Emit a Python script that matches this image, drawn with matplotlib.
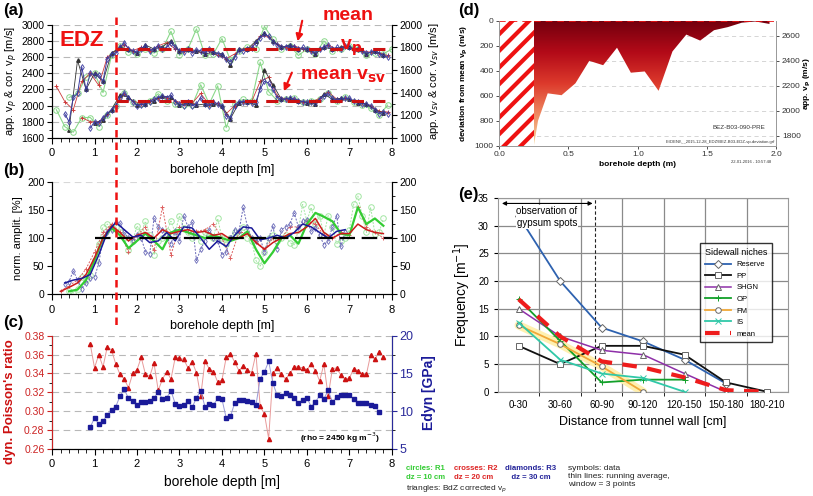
import numpy as np
import matplotlib
matplotlib.use('Agg')
import matplotlib.pyplot as plt
from matplotlib.colors import LinearSegmentedColormap
from matplotlib.lines import Line2D
from matplotlib.patches import Polygon, Rectangle
from matplotlib.ticker import MultipleLocator

plt.rcParams['font.family'] = ['Liberation Sans', 'DejaVu Sans']
plt.rcParams['hatch.linewidth'] = 3
plt.rcParams['hatch.color'] = '#ee1111'


def depths(start, stop, step):
    # sampling depths along the borehole
    return np.round(np.arange(start, stop + step / 2, step), 2)


#%%
# (a) apparent velocities, upper group = vp (left axis), lower group = vsv (right axis)
edz_depth = 1.5
vp_mean = 2700
vsv_mean = 1330

x_vp_r3 = depths(0.3, 7.9, 0.1)
vp_r3 = [1900, 1800, 2100, 2150, 2480, 2200, 2400,
         2380, 2380, 2300, 2580, 2640, 2650, 2720, 2780, 2700, 2680,
         2660, 2700, 2740, 2680, 2700, 2740, 2700, 2720, 2780, 2720,
         2680, 2660, 2700, 2650, 2690, 2680, 2650, 2700, 2660, 2640,
         2630, 2580, 2540, 2600, 2690, 2680, 2700, 2710, 2780, 2840,
         2880, 2860, 2790, 2750, 2720, 2730, 2740, 2730, 2700, 2720,
         2700, 2680, 2650, 2700, 2720, 2750, 2700, 2720, 2700, 2740,
         2720, 2690, 2700, 2680, 2650, 2660, 2680, 2640, 2620, 2600]
x_vp_cor = depths(0.4, 7.8, 0.2)
vp_cor = [1700, 2560, 2200, 2400, 2300, 2650, 2720, 2700, 2650, 2750,
          2700, 2730, 2800, 2680, 2700, 2680, 2640, 2660, 2640, 2500,
          2700, 2700, 2800, 2900, 2800, 2720, 2750, 2700, 2700, 2640,
          2720, 2700, 2720, 2720, 2700, 2640, 2680, 2620]
x_vp_r2 = depths(0.1, 7.9, 0.2)
vp_r2 = [2240, 2050, 1950, 2300, 2400, 2250, 2600, 2680, 2750, 2680,
         2720, 2680, 2740, 2780, 2700, 2670, 2680, 2660, 2680, 2620,
         2580, 2640, 2700, 2720, 2860, 2850, 2760, 2720, 2740, 2700,
         2680, 2700, 2750, 2700, 2740, 2700, 2680, 2660, 2650, 2620]
x_vp_r1 = depths(0.4, 8.0, 0.2)
vp_r1 = [2100, 2150, 2350, 2400, 2160, 2620, 2740, 2660, 2640, 2700,
         2650, 2700, 2920, 2620, 2700, 2950, 2620, 2640, 2830, 2560,
         2680, 2720, 2700, 2980, 2820, 2700, 2740, 2620, 2700, 2640,
         2800, 2680, 2700, 2740, 2700, 2620, 2650, 2640, 2700]

x_vs_r3 = depths(0.9, 7.9, 0.1)
vs_r3 = [1086,
         1143, 1129, 1179, 1214, 1250, 1286, 1357, 1400, 1357, 1321,
         1286, 1293, 1300, 1321, 1343, 1357, 1371, 1357, 1379, 1321,
         1300, 1286, 1321, 1286, 1300, 1357, 1300, 1286, 1321, 1300,
         1286, 1193, 1179, 1286, 1321, 1321, 1321, 1307, 1321, 1429,
         1500, 1486, 1429, 1357, 1343, 1343, 1350, 1343, 1329, 1321,
         1314, 1321, 1307, 1343, 1371, 1393, 1350, 1336, 1343, 1350,
         1350, 1329, 1314, 1300, 1300, 1286, 1250, 1214, 1229, 1214]
x_vs_cor = depths(1.0, 7.8, 0.2)
vs_cor = [1130, 1160, 1250, 1380, 1360, 1290, 1300, 1330, 1370, 1360,
          1290, 1310, 1290, 1300, 1300, 1280, 1170, 1310, 1320, 1290,
          1600, 1470, 1340, 1350, 1330, 1310, 1300, 1390, 1340, 1350,
          1340, 1310, 1300, 1250, 1220]
x_vs_r2 = depths(0.7, 7.9, 0.2)
vs_r2 = [1179, 1143, 1143, 1214, 1286, 1386, 1329, 1300, 1329, 1357,
         1357, 1329, 1300, 1307, 1393, 1293, 1307, 1214, 1286, 1321,
         1321, 1500, 1536, 1371, 1343, 1343, 1321, 1314, 1350, 1407,
         1343, 1350, 1329, 1307, 1286, 1236, 1229]
x_vs_r1 = depths(0.1, 7.9, 0.2)
vs_r1 = [1250, 1100, 1050, 1180, 1180, 1100, 1200, 1280, 1400, 1320,
         1300, 1330, 1390, 1330, 1300, 1290, 1290, 1470, 1300, 1460,
         1090, 1300, 1340, 1330, 1670, 1410, 1330, 1340, 1350, 1320,
         1330, 1340, 1400, 1330, 1360, 1320, 1290, 1260, 1200, 1290]

#%%
# (b) normalised amplitudes: raw data and running averages
x_amp_r3 = depths(0.3, 6.9, 0.1)
amp_r3 = [18, 22, 42, 25, 10, 20, 28,
          30, 55, 100, 110, 115, 128, 127, 110, 100, 95,
          105, 100, 75, 72, 135, 120, 115, 100, 90, 112,
          95, 140, 120, 128, 60, 80, 95, 115, 100, 95,
          70, 75, 100, 115, 112, 155, 120, 100, 95, 100,
          75, 100, 122, 80, 115, 120, 125, 145, 120, 130,
          132, 112, 118, 105, 88, 95, 120, 140, 85, 110]
x_amp_r2 = depths(0.2, 7.8, 0.2)
amp_r2 = [5, 15, 25, 45, 75, 110, 125, 110, 75, 105,
          120, 78, 155, 70, 120, 110, 112, 115, 125, 100,
          65, 110, 110, 95, 80, 100, 100, 120, 120, 130,
          125, 105, 100, 110, 105, 155, 120, 110, 100]
x_amp_r1 = depths(0.4, 7.8, 0.1)
amp_r1 = [5, 2, 10, 30, 25, 35,
          60, 90, 120, 125, 118, 120, 110, 100, 78, 95,
          122, 110, 130, 105, 70, 95, 100, 112, 130, 110,
          140, 118, 110, 100, 105, 95, 110, 105, 100, 135,
          100, 90, 100, 110, 105, 120, 100, 95, 60, 50,
          75, 100, 105, 95, 100, 105, 92, 88, 115, 160,
          130, 155, 125, 140, 105, 140, 120, 90, 95, 100,
          115, 160, 175, 140, 110, 155, 108, 110, 135]

x_avg_r3 = depths(0.3, 6.9, 0.2)
avg_r3 = [20, 25, 28, 35, 70, 110, 128, 115, 102, 105, 92, 95, 110, 95, 120,
          118, 100, 80, 95, 85, 105, 120, 118, 97, 100, 105, 100, 110, 125,
          120, 110, 100, 112, 115]
x_avg_r2 = depths(0.2, 7.8, 0.2)
avg_r2 = [5, 12, 20, 35, 65, 100, 122, 110, 95, 105, 110, 100, 115, 108,
          112, 115, 110, 112, 105, 108, 98, 100, 108, 92, 80, 92, 100, 108,
          110, 120, 135, 110, 100, 108, 108, 125, 115, 110, 108]
x_avg_r1 = depths(0.4, 7.8, 0.2)
avg_r1 = [5, 8, 25, 60, 100, 118, 105, 82, 95, 108, 95, 80, 110, 115, 110,
          105, 100, 105, 100, 95, 100, 112, 80, 55, 75, 100, 105, 90, 125,
          145, 138, 130, 108, 105, 155, 125, 135, 122]
amp_ref = 100

#%%
# (c) dynamic Poisson's ratio and Edyn
x_pois = depths(0.9, 7.8, 0.1)
poisson = [0.371,
           0.346, 0.360, 0.347, 0.368, 0.365, 0.350, 0.339, 0.334, 0.325, 0.340,
           0.344, 0.357, 0.339, 0.337, 0.351, 0.322, 0.334, 0.342, 0.334, 0.357,
           0.356, 0.355, 0.346, 0.352, 0.341, 0.316, 0.353, 0.345, 0.342, 0.331,
           0.333, 0.357, 0.361, 0.352, 0.343, 0.348, 0.344, 0.341, 0.361, 0.305,
           0.297, 0.271, 0.340, 0.346, 0.339, 0.334, 0.340, 0.347, 0.347, 0.346,
           0.344, 0.350, 0.343, 0.332, 0.350, 0.316, 0.345, 0.346, 0.338, 0.334,
           0.335, 0.345, 0.343, 0.339, 0.339, 0.360, 0.355, 0.363, 0.358]
x_edyn = depths(0.9, 7.7, 0.1)
edyn = [7.9,
        9.1, 8.3, 8.7, 9.5, 10.2, 10.6, 12.0, 12.9, 11.7, 11.4,
        10.8, 11.2, 11.2, 11.4, 11.7, 12.6, 11.6, 11.8, 12.7, 11.0,
        10.7, 10.8, 11.3, 10.5, 11.8, 12.7, 10.6, 10.9, 10.8, 11.7,
        11.6, 9.1, 9.3, 11.1, 11.5, 11.5, 11.3, 11.2, 10.8, 14.3,
        15.2, 16.6, 13.7, 12.1, 12.0, 12.4, 12.2, 11.7, 11.1, 11.5,
        11.8, 10.6, 11.2, 12.1, 11.6, 12.8, 11.2, 11.9, 12.1, 12.1,
        12.1, 11.6, 11.1, 11.1, 11.1, 10.8, 10.7, 9.9]

#%%
# (d) deviation from mean vp near the wall
d_hatch_end = 0.25
d_vp_ref = 2720
d_depth = [0.25, 0.28, 0.35, 0.45, 0.55, 0.65, 0.75, 0.85, 0.95, 1.05,
           1.15, 1.25, 1.35, 1.45, 1.55, 1.65, 1.75, 1.85, 1.95]
d_dev = [1000, 800, 580, 595, 500, 320, 355, 215, 415, 405,
         560, 245, 110, 158, 75, 50, 15, 5, 25]
d_vp_ticks = [1800, 2000, 2200, 2400, 2600]

#%%
# (e) fracture frequency in the sidewall niches
e_cats = ['0-30', '30-60', '60-90', '90-120', '120-150', '150-180', '180-210']
gypsum_limit = 1.85
nan = np.nan
e_reserve = [31.7, 20.0, 11.6, 9.1, 5.8, 1.5, nan]
e_pp = [8.3, 5.0, 8.3, 8.3, 6.7, 1.7, 0.0]
e_shgn = [15.0, 10.0, 7.5, 6.7, 3.3, 0.0, nan]
e_op = [16.7, 9.2, 1.7, 2.2, 2.2, nan, nan]
e_fm = [12.0, 8.6, 4.6, 0.0, nan, nan, nan]
e_is = [12.5, 5.8, 3.3, 2.5, 0.0, nan, nan]
e_mean = [16.7, 10.0, 5.5, 4.4, 2.6, 0.3, 0.0]

#%%
fig = plt.figure(figsize=(8.13, 4.96), dpi=100)

c_green = '#8ad88a'
c_red = '#cc3b3b'
c_blue = '#3c3ca0'
c_black = '#333333'


def depth_axis(ax, label):
    ax.set_xlim(0, 8)
    ax.xaxis.set_major_locator(MultipleLocator(1))
    ax.xaxis.set_minor_locator(MultipleLocator(0.2))
    ax.tick_params(axis='x', labelsize=8, length=4, width=0.8)
    ax.tick_params(axis='x', which='minor', length=3)
    ax.set_xlabel(label, fontsize=9, labelpad=4)
    ax.spines['top'].set_visible(False)


# (a)
ax_a = fig.add_axes([0.064, 0.722, 0.418, 0.228])
ax_a2 = ax_a.twinx()
ax_a.set_ylim(1600, 3000)
ax_a2.set_ylim(1000, 2000)
depth_axis(ax_a, 'borehole depth [m]')
ax_a2.spines['top'].set_visible(False)
ax_a.yaxis.set_major_locator(MultipleLocator(200))
ax_a.yaxis.set_minor_locator(MultipleLocator(100))
ax_a2.yaxis.set_major_locator(MultipleLocator(200))
ax_a2.yaxis.set_minor_locator(MultipleLocator(100))
ax_a.tick_params(axis='y', labelsize=7.5, pad=2)
ax_a2.tick_params(axis='y', labelsize=7.5, pad=2)
ax_a.yaxis.grid(True, color='#b8b8b8', ls=(0, (6, 4)), lw=0.8)
ax_a.set_ylabel('app. v$_p$ & cor. v$_p$ [m/s]', fontsize=8, labelpad=1)
ax_a2.set_ylabel('app. v$_{sv}$ & cor. v$_{sv}$ [m/s]', fontsize=8, labelpad=3)

for ax, xs, ys in [(ax_a, (x_vp_r1, x_vp_r2, x_vp_cor, x_vp_r3), (vp_r1, vp_r2, vp_cor, vp_r3)),
                   (ax_a2, (x_vs_r1, x_vs_r2, x_vs_cor, x_vs_r3), (vs_r1, vs_r2, vs_cor, vs_r3))]:
    ax.plot(xs[0], ys[0], '-', color=c_green, lw=0.8, marker='o', ms=4, mfc='none', mew=0.7)
    ax.plot(xs[1], ys[1], '-', color=c_red, lw=0.6, marker='+', ms=3.5, mew=0.7)
    ax.plot(xs[2], ys[2], '-', color=c_black, lw=0.6, marker='^', ms=2.5)
    ax.plot(xs[3], ys[3], '-', color=c_blue, lw=0.7, marker='d', ms=3, mfc='none', mew=0.6)
ax_a.plot([edz_depth, 8], [vp_mean, vp_mean], color='#cc1111', lw=2.2, dashes=(4, 3), zorder=5)
ax_a2.plot([edz_depth, 8], [vsv_mean, vsv_mean], color='#cc1111', lw=2.2, dashes=(4, 3), zorder=5)

ax_a.text(0.088, 0.86, 'EDZ', transform=ax_a.transAxes, color='#ee1111', fontsize=16,
          fontweight='bold', ha='center', va='center', zorder=10)
ax_a2.text(0.87, 1.08, 'mean', transform=ax_a.transAxes, color='#ee1111', fontsize=14,
           fontweight='bold', ha='center', va='center')
ax_a2.text(0.88, 0.80, 'v$_\\mathbf{p}$', transform=ax_a.transAxes, color='#ee1111', fontsize=14,
           fontweight='bold', ha='center', va='center', zorder=10)
ax_a2.text(0.856, 0.54, 'mean v$_\\mathbf{sv}$', transform=ax_a.transAxes, color='#ee1111',
           fontsize=14, fontweight='bold', ha='center', va='center', zorder=10)
ax_a2.annotate('', xy=(0.721, 0.83), xytext=(0.738, 1.06), xycoords=ax_a.transAxes,
               textcoords=ax_a.transAxes,
               arrowprops=dict(arrowstyle='-|>', color='#ee1111', lw=1.5, mutation_scale=10))
ax_a2.annotate('', xy=(0.679, 0.39), xytext=(0.709, 0.60), xycoords=ax_a.transAxes,
               textcoords=ax_a.transAxes,
               arrowprops=dict(arrowstyle='-|>', color='#ee1111', lw=1.5, mutation_scale=10))

# (b)
ax_b = fig.add_axes([0.064, 0.407, 0.418, 0.226])
ax_b2 = ax_b.twinx()
depth_axis(ax_b, 'borehole depth [m]')
ax_b2.spines['top'].set_visible(False)
for ax in (ax_b, ax_b2):
    ax.set_ylim(0, 200)
    ax.yaxis.set_major_locator(MultipleLocator(50))
    ax.yaxis.set_minor_locator(MultipleLocator(25))
    ax.tick_params(axis='y', labelsize=7.5, pad=2)
ax_b.axhline(200, color='#d8d8d8', ls=(0, (6, 4)), lw=0.8)
ax_b.set_ylabel('norm. amplit. [%]', fontsize=8, labelpad=3)
ax_b.plot(x_amp_r1, amp_r1, color='#a3e6a3', lw=0.7, ls=(0, (2, 1.5)), marker='o', ms=4,
          mfc='none', mew=0.7)
ax_b.plot(x_amp_r2, amp_r2, color='#dd6060', lw=0.7, ls=(0, (2, 1.5)), marker='+', ms=3.5, mew=0.7)
ax_b.plot(x_amp_r3, amp_r3, color='#6a6ab8', lw=0.7, ls=(0, (2, 1.5)), marker='d', ms=3,
          mfc='none', mew=0.6)
ax_b.plot(x_avg_r1, avg_r1, color='#33cc33', lw=1.6)
ax_b.plot(x_avg_r2, avg_r2, color='#cc1a1a', lw=1.1)
ax_b.plot(x_avg_r3, avg_r3, color='#1a1a99', lw=1.1)
ax_b.plot([1.0, 8], [amp_ref, amp_ref], color='black', lw=1.6, dashes=(7, 3), zorder=6)

# (c)
ax_c = fig.add_axes([0.064, 0.095, 0.418, 0.228])
ax_c2 = ax_c.twinx()
depth_axis(ax_c, 'borehole depth [m]')
ax_c.xaxis.label.set_fontsize(10)
ax_c2.spines['top'].set_visible(False)
ax_c.set_ylim(0.26, 0.38)
ax_c2.set_ylim(5, 20)
ax_c.yaxis.set_major_locator(MultipleLocator(0.02))
ax_c.yaxis.set_minor_locator(MultipleLocator(0.01))
ax_c2.yaxis.set_major_locator(MultipleLocator(5))
ax_c2.yaxis.set_minor_locator(MultipleLocator(2.5))
ax_c.yaxis.grid(True, color='#b8b8b8', ls=(0, (6, 4)), lw=0.8)
ax_c.tick_params(axis='y', labelsize=7.5, colors='#cc2222', pad=2)
ax_c2.tick_params(axis='y', labelsize=9, colors='#2a2a9a', pad=2)
ax_c2.spines['left'].set_color('#cc2222')
ax_c2.spines['right'].set_color('#2a2a9a')
ax_c.set_ylabel("dyn. Poisson's ratio", fontsize=9.5, fontweight='bold', color='#cc1111')
ax_c.yaxis.set_label_coords(-0.105, 0.42)
ax_c2.set_ylabel('Edyn [GPa]', fontsize=10, fontweight='bold', color='#1a1a99', labelpad=6)
ax_c.plot(x_pois, poisson, color='#e89a9a', lw=0.7, marker='^', ms=3, mfc='#cc1111', mec='#cc1111')
ax_c2.plot(x_edyn, edyn, color='#9a9ad8', lw=0.7, marker='s', ms=2.3, mfc='#1a1a99', mec='#1a1a99')
ax_c2.text(0.965, 0.1, '(rho = 2450 kg m$^{-3}$)', transform=ax_c.transAxes, fontsize=6,
           fontweight='bold', ha='right', va='center')

# EDZ boundary through (a)-(c)
fig.canvas.draw()
x_edz = fig.transFigure.inverted().transform(ax_a.transData.transform((edz_depth, 2000)))[0]
fig.add_artist(Line2D([x_edz, x_edz], [1 - 17 / 496, 1 - 325 / 496], transform=fig.transFigure,
                      color='#ee1111', lw=1.8, dashes=(3, 2), zorder=20))

# (d)
ax_d = fig.add_axes([0.614, 0.706, 0.341, 0.252])
ax_d2 = ax_d.twinx()
for tick in d_vp_ticks:
    ax_d.axhline(d_vp_ref - tick, color='#cfcfcf', ls=(0, (5, 4)), lw=0.6, zorder=1)
ax_d.add_patch(Rectangle((0, 0), d_hatch_end, 1000, facecolor='white', edgecolor='#ee1111',
                         hatch='//', lw=0, zorder=2))
cmap_d = LinearSegmentedColormap.from_list('dev', ['#74000e', '#b30a18', '#dd3a2c', '#ef8a62',
                                                   '#f5d9a2'])
grad = np.linspace(0, 1, 256).reshape(-1, 1)
im = ax_d.imshow(grad, cmap=cmap_d, aspect='auto', origin='upper',
                 extent=[d_depth[0], d_depth[-1], 1000, 0], zorder=2)
verts = [(x, 0) for x in d_depth] + [(x, y) for x, y in zip(d_depth[::-1], d_dev[::-1])]
poly = Polygon(verts, closed=True, facecolor='none', edgecolor='none', transform=ax_d.transData)
ax_d.add_patch(poly)
im.set_clip_path(poly)
ax_d.set_xlim(0, 2)
ax_d.set_ylim(1000, 0)
ax_d.axhline(0, color='#ee1111', lw=1.2, ls=(0, (4, 3)), zorder=3)
ax_d2.set_ylim(d_vp_ref - 1000, d_vp_ref)
ax_d2.set_yticks(d_vp_ticks)
ax_d.set_xticks([0, 0.5, 1.0, 1.5, 2.0])
ax_d.set_xticklabels(['0.0', '0.5', '1.0', '1.5', '2.0'])
ax_d.yaxis.set_major_locator(MultipleLocator(200))
for ax in (ax_d, ax_d2):
    ax.tick_params(labelsize=6, length=2, width=0.6, colors='#333333', pad=2)
    for s in ax.spines.values():
        s.set_color('#999999')
        s.set_linewidth(0.6)
    ax.spines['top'].set_visible(False)
ax_d.set_ylabel('deviation from mean v$_\\mathbf{p}$ (m/s)', fontsize=6, fontweight='bold', labelpad=3)
ax_d2.set_ylabel('app. v$_\\mathbf{p}$ (m/s)', fontsize=6, fontweight='bold', labelpad=1)
ax_d.set_xlabel('borehole depth (m)', fontsize=6, fontweight='bold', labelpad=2)
ax_d.text(1.92, 850, 'BEZ-B03-090-PRE', fontsize=4.5, ha='right', va='center', color='#333333',
          zorder=5)
ax_d.text(1.99, 970, 'E:\\DENI\\__2015-12-28_EDZ\\BEZ-B03-EDZ-vp-deviation.grf', fontsize=3,
          ha='right', va='center', color='#333333', zorder=5)
ax_d.text(0.98, -0.13, '22-01-2016 - 10:57:48', transform=ax_d.transAxes, fontsize=3, ha='right',
          va='center', color='#333333')

# (e)
ax_e = fig.add_axes([0.6125, 0.21, 0.357, 0.391])
pos = np.arange(len(e_cats))
ax_e.set_xlim(-0.5, len(e_cats) - 0.5)
ax_e.set_ylim(0, 35)
ax_e.set_xticks(pos)
ax_e.set_xticklabels(e_cats)
ax_e.set_xticks(pos[:-1] + 0.5, minor=True)
ax_e.yaxis.set_major_locator(MultipleLocator(5))
ax_e.tick_params(axis='x', which='major', length=0, labelsize=7, pad=6)
ax_e.tick_params(axis='x', which='minor', length=3)
ax_e.tick_params(axis='y', labelsize=7, length=3)
ax_e.grid(True, which='minor', axis='x', color='#8a8a8a', lw=0.9)
ax_e.grid(True, which='major', axis='y', color='#8a8a8a', lw=0.9)
ax_e.set_axisbelow(True)
for s in ax_e.spines.values():
    s.set_color('#999999')
ax_e.set_ylabel('Frequency [m$^{-1}$]', fontsize=10, labelpad=4)
ax_e.set_xlabel('Distance from tunnel wall [cm]', fontsize=9, labelpad=4)

ax_e.plot(pos, e_fm, color='#fff0b0', lw=6, solid_capstyle='round', zorder=2)
series_e = [('Reserve', e_reserve, '#2e62b0', 'D', 1.3),
            ('PP', e_pp, '#111111', 's', 1.3),
            ('SHGN', e_shgn, '#8e2fa8', '^', 1.1),
            ('OP', e_op, '#12a02a', '+', 1.3),
            ('FM', e_fm, '#f0a838', 'o', 1.3),
            ('IS', e_is, '#30c8a8', 'x', 1.3)]
for name, vals, col, mk, lw in series_e:
    ax_e.plot(pos, vals, '-', color=col, lw=lw, marker=mk, ms=4, mfc='white',
              mec='#666666' if mk in 'Ds^o' else col, mew=0.7, label=name, zorder=3)
ax_e.plot(pos, e_mean, color='#ee1c1c', lw=3, dashes=(3.5, 2.5), label='mean', zorder=4)
ax_e.axvline(gypsum_limit, color='#222222', lw=0.8, ls=(0, (3, 2)), zorder=2.5)
ax_e.annotate('', xy=(-0.47, 34), xytext=(gypsum_limit, 34),
              arrowprops=dict(arrowstyle='<|-|>', color='black', lw=0.8, mutation_scale=6))
ax_e.text(0.68, 31.5, 'observation of\ngypsum spots', fontsize=7, ha='center', va='center',
          linespacing=1.3, bbox=dict(facecolor='white', edgecolor='none', pad=0.5), zorder=5)
leg = ax_e.legend(loc='upper left', bbox_to_anchor=(0.683, 0.786), fontsize=5.5,
                  title='Sidewall niches', title_fontsize=6.5, frameon=True, fancybox=False,
                  edgecolor='black', handlelength=3.4, borderpad=0.6, labelspacing=0.55)
leg._legend_box.align = 'left'
leg.get_frame().set_linewidth(1.0)

# notes under (d)/(e)
fig.text(406 / 813, 1 - 473 / 496, 'circles: R1\ndz = 10 cm', color='#33cc33', fontsize=5.6,
         fontweight='bold', va='center', linespacing=1.3)
fig.text(454 / 813, 1 - 473 / 496, 'crosses: R2\ndz = 20 cm', color='#dd2222', fontsize=5.6,
         fontweight='bold', va='center', linespacing=1.3)
fig.text(505 / 813, 1 - 473 / 496, 'diamonds: R3\n   dz = 30 cm', color='#222299', fontsize=5.6,
         fontweight='bold', va='center', linespacing=1.3)
fig.text(568 / 813, 1 - 477 / 496, 'symbols: data\nthin lines: running average,\nwindow = 3 points',
         color='#222222', fontsize=6, va='center', linespacing=1.2)
fig.text(406 / 813, 1 - 489 / 496, 'triangles: BdZ corrected v$_p$', color='#222222', fontsize=6,
         va='center')

# panel letters
for lab, px, py in [('(a)', 3, 10), ('(b)', 3, 170), ('(c)', 3, 322), ('(d)', 458, 10), ('(e)', 458, 194)]:
    fig.text(px / 813, 1 - py / 496, lab, fontsize=12, fontweight='bold', va='center')

fig.savefig('out.png', dpi=100)
